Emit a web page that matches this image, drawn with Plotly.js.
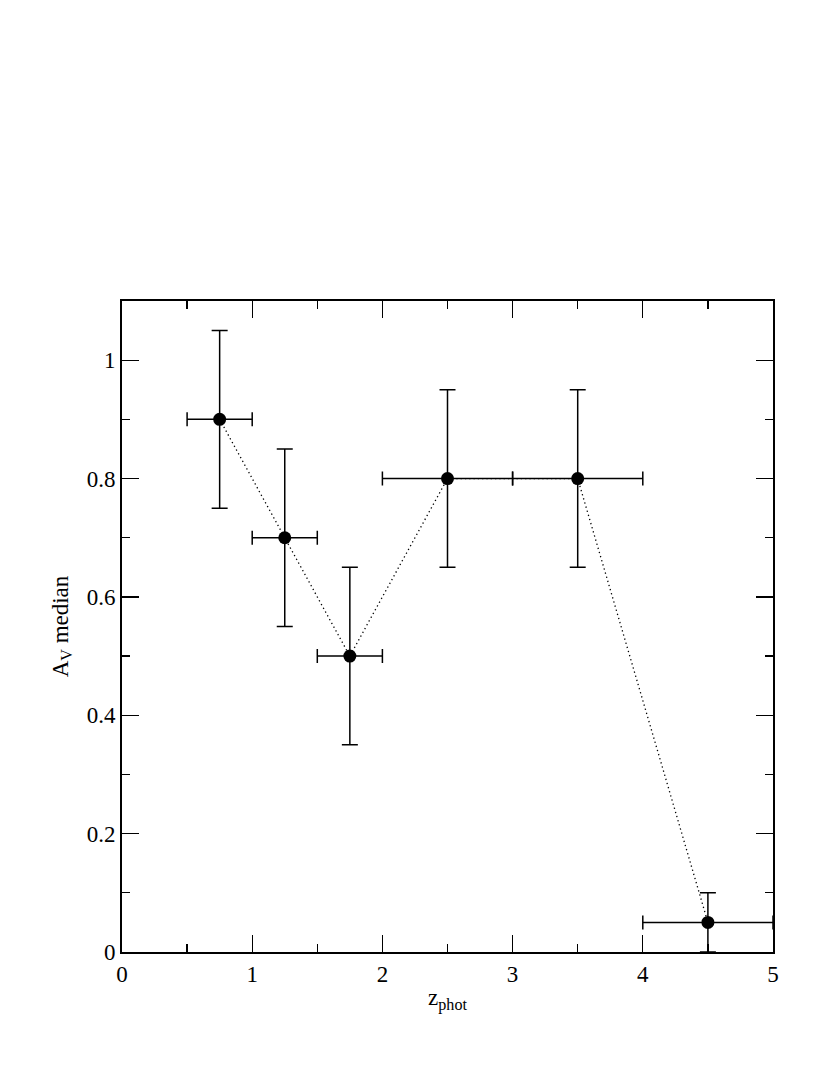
<!DOCTYPE html>
<html>
<head>
<meta charset="utf-8">
<script src="https://cdn.plot.ly/plotly-3.0.1.min.js"></script>
<style>body{margin:0;padding:0;background:#fff;}</style>
</head>
<body>
<div id="chart" style="width:830px;height:1075px;"></div>
<script>
const zPhot = [0.75, 1.25, 1.75, 2.5, 3.5, 4.5];
const avMedian = [0.9, 0.7, 0.5, 0.8, 0.8, 0.05];
const zErr = [0.25, 0.25, 0.25, 0.5, 0.5, 0.5];
const avErr = [0.15, 0.15, 0.15, 0.15, 0.15, 0.05];

const font = '"Liberation Serif", "Times New Roman", serif';

const trace = {
  x: zPhot,
  y: avMedian,
  type: 'scatter',
  mode: 'lines+markers',
  line: {color: '#000', width: 1.3, dash: '1.3px,3px'},
  marker: {color: '#000', size: 13, symbol: 'circle'},
  error_x: {type: 'data', array: zErr, visible: true, color: '#000', thickness: 1.5, width: 7},
  error_y: {type: 'data', array: avErr, visible: true, color: '#000', thickness: 1.5, width: 8},
  showlegend: false,
  hoverinfo: 'x+y'
};

const axisCommon = {
  showline: true,
  linecolor: '#000',
  linewidth: 2,
  mirror: 'allticks',
  ticks: 'inside',
  ticklen: 17,
  tickwidth: 1.3,
  tickcolor: '#000',
  showgrid: false,
  zeroline: false,
  tickfont: {family: font, size: 23, color: '#000'}
};

const layout = {
  width: 830,
  height: 1075,
  margin: {l: 122, r: 57, t: 301, b: 123},
  paper_bgcolor: '#fff',
  plot_bgcolor: '#fff',
  xaxis: Object.assign({}, axisCommon, {
    range: [0, 5],
    dtick: 1,
    tick0: 0,
    minor: {dtick: 0.5, tick0: 0, ticks: 'inside', ticklen: 8, tickwidth: 1.3, tickcolor: '#000', showgrid: false},
    title: {text: 'z<sub>phot</sub>', font: {family: font, size: 23, color: '#000'}, standoff: 3}
  }),
  yaxis: Object.assign({}, axisCommon, {
    range: [0, 1.1],
    dtick: 0.2,
    tick0: 0,
    minor: {dtick: 0.1, tick0: 0, ticks: 'inside', ticklen: 8, tickwidth: 1.3, tickcolor: '#000', showgrid: false},
    title: {text: 'A<sub>V</sub> median', font: {family: font, size: 23, color: '#000'}, standoff: 12}
  })
};

Plotly.newPlot('chart', [trace], layout, {displayModeBar: false, staticPlot: true});
</script>
</body>
</html>
